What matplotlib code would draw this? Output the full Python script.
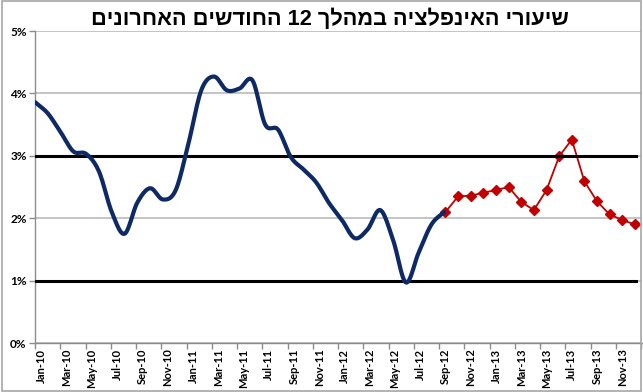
import numpy as np
import matplotlib
matplotlib.use("Agg")
import matplotlib.pyplot as plt
from matplotlib.patches import Rectangle
import re

# monthly labels Jan-10 .. Dec-13
months = ["Jan", "Feb", "Mar", "Apr", "May", "Jun", "Jul", "Aug", "Sep", "Oct", "Nov", "Dec"]
categories = [f"{m}-{y}" for y in ("10", "11", "12", "13") for m in months]

# actual inflation, Jan-10 .. Sep-12 (smoothed blue line)
actual = [3.86, 3.68, 3.38, 3.07, 3.03, 2.75, 2.10, 1.75, 2.25, 2.48, 2.30,
          2.45, 3.20, 4.05, 4.27, 4.05, 4.08, 4.21, 3.50, 3.42, 2.98, 2.78,
          2.57, 2.24, 1.97, 1.68, 1.82, 2.13, 1.65, 0.97, 1.45, 1.90, 2.10]

# forecast, Sep-12 .. Dec-13 (red with diamonds)
forecast = [2.10, 2.35, 2.36, 2.41, 2.45, 2.50, 2.26, 2.13, 2.45, 2.99,
            3.26, 2.59, 2.27, 2.06, 1.97, 1.90]
forecast_start = 32

band_low = 1.0
band_high = 3.0

title = "שיעורי האינפלציה במהלך 12 החודשים האחרונים"


def visual_rtl(s):
    # matplotlib lays text out left to right; flip Hebrew, keep digit runs
    rev = s[::-1]
    return re.sub(r"\d+", lambda m: m.group(0)[::-1], rev)


def smooth(xs, ys, n=12):
    # catmull-rom, close to Excel's smoothed line
    xs = np.asarray(xs, float)
    ys = np.asarray(ys, float)
    px = np.concatenate([[2 * xs[0] - xs[1]], xs, [2 * xs[-1] - xs[-2]]])
    py = np.concatenate([[2 * ys[0] - ys[1]], ys, [2 * ys[-1] - ys[-2]]])
    t = np.linspace(0, 1, n, endpoint=False)
    ox, oy = [], []
    for i in range(1, len(px) - 2):
        for arr, out in ((px, ox), (py, oy)):
            p0, p1, p2, p3 = arr[i - 1], arr[i], arr[i + 1], arr[i + 2]
            out.extend(0.5 * (2 * p1 + (-p0 + p2) * t
                              + (2 * p0 - 5 * p1 + 4 * p2 - p3) * t ** 2
                              + (-p0 + 3 * p1 - 3 * p2 + p3) * t ** 3))
    ox.append(xs[-1])
    oy.append(ys[-1])
    return np.array(ox), np.array(oy)


fig = plt.figure(figsize=(6.43, 3.92), dpi=100)
fig.patches.append(Rectangle((0.003, 0.003), 0.994, 0.994, transform=fig.transFigure,
                             fill=False, edgecolor="#A6A6A6", linewidth=1.2))

L, R, B, T = 35 / 643, 642 / 643, 1 - 343 / 392, 1 - 31 / 392
ax = fig.add_axes([L, B, R - L, T - B])
n = len(categories)

# primary axis: categories sit between tick marks
ax.set_xlim(-0.5, 47.56)
ax.set_ylim(0, 5)
ax.set_yticks(np.arange(0, 6))
ax.set_yticklabels([f"{v}%" for v in range(6)], fontsize=8.5, fontweight="bold",
                   family="Lato")
ax.grid(axis="y", color="#BFBFBF", linewidth=1.3, zorder=0)
ax.set_xticks(np.arange(0, n, 2))
ax.set_xticklabels(categories[::2], rotation=90, fontsize=8, fontweight="bold",
                   family="Lato")
ax.set_xticks(np.arange(-0.5, n, 2), minor=True)
ax.tick_params(axis="x", which="major", length=0, pad=4)
ax.tick_params(axis="x", which="minor", length=4, color="#8C8C8C", width=1)
ax.tick_params(axis="y", length=4, color="#8C8C8C", width=1, pad=2)
for side in ("top", "right"):
    ax.spines[side].set_visible(False)
for side in ("left", "bottom"):
    ax.spines[side].set_color("#8C8C8C")
    ax.spines[side].set_linewidth(1)

fx = np.arange(forecast_start, forecast_start + len(forecast))
ax.plot(fx, forecast, color="#C00000", linewidth=1.3, marker="D", markersize=5.5,
        zorder=4)

# secondary axis: line series plotted on tick marks
ax2 = ax.twiny()
ax2.set_xlim(0, 47.46)
ax2.set_ylim(0, 5)
ax2.axis("off")
idx = np.arange(n)
ax2.plot(idx, [band_low] * n, color="black", linewidth=2.2, zorder=3)
ax2.plot(idx, [band_high] * n, color="black", linewidth=2.2, zorder=3)
sx, sy = smooth(np.arange(len(actual)), actual)
ax2.plot(sx, sy, color="#0D2A66", linewidth=3, solid_capstyle="round", zorder=3)

fig.text(330 / 643, 1 - 19 / 392, visual_rtl(title), ha="center", va="center",
         fontsize=15.7, fontweight="bold", family="Liberation Sans")

fig.savefig("out.png", dpi=100)
